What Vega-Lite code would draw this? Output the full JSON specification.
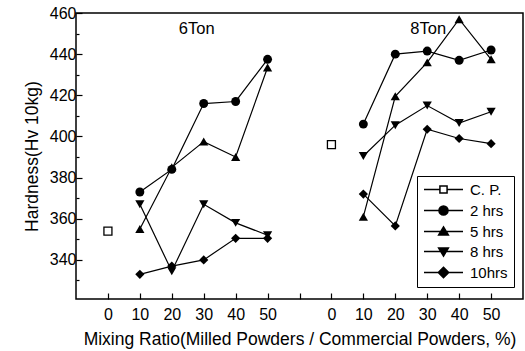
{
  "$schema": "https://vega.github.io/schema/vega-lite/v6.json",
  "width": 447,
  "height": 286,
  "autosize": "none",
  "padding": {"left": 76, "top": 13, "right": 2, "bottom": 52},
  "background": "white",
  "config": {
    "font": "Liberation Sans",
    "view": {"stroke": "black", "strokeWidth": 1.5},
    "axis": {"domain": false, "grid": false, "tickColor": "black", "tickWidth": 1.2, "labelColor": "black", "titleColor": "black", "labelFont": "Liberation Sans", "titleFont": "Liberation Sans", "labelFontSize": 16, "titleFontSize": 17.5, "titleFontWeight": "normal"}
  },
  "datasets": {
    "pts": [
      {"g": "6Ton", "x": "6Ton-0", "r": 0, "s": "C. P.", "v": 354},
      {"g": "6Ton", "x": "6Ton-10", "r": 10, "s": "2 hrs", "v": 373},
      {"g": "6Ton", "x": "6Ton-20", "r": 20, "s": "2 hrs", "v": 384},
      {"g": "6Ton", "x": "6Ton-30", "r": 30, "s": "2 hrs", "v": 416},
      {"g": "6Ton", "x": "6Ton-40", "r": 40, "s": "2 hrs", "v": 417},
      {"g": "6Ton", "x": "6Ton-50", "r": 50, "s": "2 hrs", "v": 437.5},
      {"g": "6Ton", "x": "6Ton-10", "r": 10, "s": "5 hrs", "v": 355},
      {"g": "6Ton", "x": "6Ton-20", "r": 20, "s": "5 hrs", "v": 385},
      {"g": "6Ton", "x": "6Ton-30", "r": 30, "s": "5 hrs", "v": 397.5},
      {"g": "6Ton", "x": "6Ton-40", "r": 40, "s": "5 hrs", "v": 390},
      {"g": "6Ton", "x": "6Ton-50", "r": 50, "s": "5 hrs", "v": 433.5},
      {"g": "6Ton", "x": "6Ton-10", "r": 10, "s": "8 hrs", "v": 367},
      {"g": "6Ton", "x": "6Ton-20", "r": 20, "s": "8 hrs", "v": 334.5},
      {"g": "6Ton", "x": "6Ton-30", "r": 30, "s": "8 hrs", "v": 367},
      {"g": "6Ton", "x": "6Ton-40", "r": 40, "s": "8 hrs", "v": 358},
      {"g": "6Ton", "x": "6Ton-50", "r": 50, "s": "8 hrs", "v": 352},
      {"g": "6Ton", "x": "6Ton-10", "r": 10, "s": "10hrs", "v": 333},
      {"g": "6Ton", "x": "6Ton-20", "r": 20, "s": "10hrs", "v": 337},
      {"g": "6Ton", "x": "6Ton-30", "r": 30, "s": "10hrs", "v": 340},
      {"g": "6Ton", "x": "6Ton-40", "r": 40, "s": "10hrs", "v": 350.5},
      {"g": "6Ton", "x": "6Ton-50", "r": 50, "s": "10hrs", "v": 350.5},
      {"g": "8Ton", "x": "8Ton-0", "r": 0, "s": "C. P.", "v": 396},
      {"g": "8Ton", "x": "8Ton-10", "r": 10, "s": "2 hrs", "v": 406},
      {"g": "8Ton", "x": "8Ton-20", "r": 20, "s": "2 hrs", "v": 440},
      {"g": "8Ton", "x": "8Ton-30", "r": 30, "s": "2 hrs", "v": 441.5},
      {"g": "8Ton", "x": "8Ton-40", "r": 40, "s": "2 hrs", "v": 437},
      {"g": "8Ton", "x": "8Ton-50", "r": 50, "s": "2 hrs", "v": 442},
      {"g": "8Ton", "x": "8Ton-10", "r": 10, "s": "5 hrs", "v": 361},
      {"g": "8Ton", "x": "8Ton-20", "r": 20, "s": "5 hrs", "v": 419.5},
      {"g": "8Ton", "x": "8Ton-30", "r": 30, "s": "5 hrs", "v": 436},
      {"g": "8Ton", "x": "8Ton-40", "r": 40, "s": "5 hrs", "v": 457},
      {"g": "8Ton", "x": "8Ton-50", "r": 50, "s": "5 hrs", "v": 437.5},
      {"g": "8Ton", "x": "8Ton-10", "r": 10, "s": "8 hrs", "v": 390.5},
      {"g": "8Ton", "x": "8Ton-20", "r": 20, "s": "8 hrs", "v": 405.5},
      {"g": "8Ton", "x": "8Ton-30", "r": 30, "s": "8 hrs", "v": 415},
      {"g": "8Ton", "x": "8Ton-40", "r": 40, "s": "8 hrs", "v": 406.5},
      {"g": "8Ton", "x": "8Ton-50", "r": 50, "s": "8 hrs", "v": 412},
      {"g": "8Ton", "x": "8Ton-10", "r": 10, "s": "10hrs", "v": 372},
      {"g": "8Ton", "x": "8Ton-20", "r": 20, "s": "10hrs", "v": 356.5},
      {"g": "8Ton", "x": "8Ton-30", "r": 30, "s": "10hrs", "v": 403.5},
      {"g": "8Ton", "x": "8Ton-40", "r": 40, "s": "10hrs", "v": 399},
      {"g": "8Ton", "x": "8Ton-50", "r": 50, "s": "10hrs", "v": 396.5}
    ],
    "labels": [
      {"t": "6Ton", "x": "6Ton-30", "v": 452.2},
      {"t": "8Ton", "x": "8Ton-30", "v": 452.2}
    ]
  },
  "resolve": {"axis": {"y": "independent"}},
  "layer": [
    {
      "data": {"name": "pts"},
      "mark": {"type": "line", "color": "black", "strokeWidth": 1.2},
      "encoding": {
        "x": {"field": "x", "type": "ordinal",
          "scale": {"type": "point", "padding": 1, "domain": ["6Ton-0", "6Ton-10", "6Ton-20", "6Ton-30", "6Ton-40", "6Ton-50", "gap", "8Ton-0", "8Ton-10", "8Ton-20", "8Ton-30", "8Ton-40", "8Ton-50"]},
          "axis": {"title": "Mixing Ratio(Milled Powders / Commercial Powders, %)", "labelAngle": 0, "tickSize": -6, "labelPadding": 13, "titlePadding": 8, "labelExpr": "datum.value == 'gap' ? '' : split(datum.value, '-')[1]"}},
        "y": {"field": "v", "type": "quantitative", "scale": {"domain": [321, 460], "nice": false, "zero": false},
          "axis": {"values": [340, 360, 380, 400, 420, 440, 460], "tickSize": -6, "labelPadding": 6, "title": "Hardness(Hv 10kg)", "titlePadding": 8, "orient": "left"}},
        "detail": [{"field": "g"}, {"field": "s"}],
        "order": {"field": "r", "type": "quantitative"}
      }
    },
    {
      "data": {"name": "pts"},
      "transform": [{"filter": "datum.s == 'C. P.'"}],
      "mark": {"type": "point", "shape": "square", "filled": false, "fill": "white", "stroke": "black", "strokeWidth": 1.3, "size": 64, "opacity": 1},
      "encoding": {
        "x": {"field": "x", "type": "ordinal"},
        "y": {"field": "v", "type": "quantitative",
          "axis": {"values": [330, 350, 370, 390, 410, 430, 450], "tickSize": -3, "labels": false, "title": null, "orient": "left", "domain": false}}
      }
    },
    {
      "data": {"name": "pts"},
      "transform": [{"filter": "datum.s == '2 hrs'"}],
      "mark": {"type": "point", "shape": "circle", "filled": true, "color": "black", "size": 80, "opacity": 1},
      "encoding": {
        "x": {"field": "x", "type": "ordinal"},
        "y": {"field": "v", "type": "quantitative", "axis": null}
      }
    },
    {
      "data": {"name": "pts"},
      "transform": [{"filter": "datum.s == '5 hrs'"}],
      "mark": {"type": "point", "shape": "triangle-up", "filled": true, "color": "black", "size": 85, "opacity": 1},
      "encoding": {
        "x": {"field": "x", "type": "ordinal"},
        "y": {"field": "v", "type": "quantitative", "axis": null}
      }
    },
    {
      "data": {"name": "pts"},
      "transform": [{"filter": "datum.s == '8 hrs'"}],
      "mark": {"type": "point", "shape": "triangle-down", "filled": true, "color": "black", "size": 85, "opacity": 1},
      "encoding": {
        "x": {"field": "x", "type": "ordinal"},
        "y": {"field": "v", "type": "quantitative", "axis": null}
      }
    },
    {
      "data": {"name": "pts"},
      "transform": [{"filter": "datum.s == '10hrs'"}],
      "mark": {"type": "point", "shape": "diamond", "filled": true, "color": "black", "size": 85, "opacity": 1},
      "encoding": {
        "x": {"field": "x", "type": "ordinal"},
        "y": {"field": "v", "type": "quantitative", "axis": null}
      }
    },
    {
      "data": {"name": "pts"},
      "transform": [{"filter": "false"}],
      "mark": {"type": "point", "filled": false, "stroke": "black", "strokeWidth": 1, "opacity": 1},
      "encoding": {
        "x": {"field": "x", "type": "ordinal"},
        "y": {"field": "v", "type": "quantitative", "axis": null},
        "shape": {"field": "s", "type": "nominal",
          "scale": {"domain": ["C. P.", "2 hrs", "5 hrs", "8 hrs", "10hrs"],
            "range": ["M-1,0H1.45M2.55,0H5M1.45,-0.55H2.55V0.55H1.45Z", "M-1,0H5M1.3,0A0.7,0.7 0 1,0 2.7,0A0.7,0.7 0 1,0 1.3,0Z", "M-1,0H5M2,-0.7L2.75,0.55L1.25,0.55Z", "M-1,0H5M2,0.7L2.75,-0.55L1.25,-0.55Z", "M-1,0H5M2,-0.8L2.8,0L2,0.8L1.2,0Z"]},
          "legend": {"orient": "none", "legendX": 341, "legendY": 163, "title": null, "strokeColor": "black", "fillColor": "white", "padding": 6, "labelFontSize": 15, "labelFont": "Liberation Sans", "labelColor": "black", "symbolSize": 169, "labelOffset": 32, "rowPadding": 4,
            "encode": {
              "legend": {"strokeWidth": {"value": 1.5}},
              "symbols": {
                "stroke": {"value": "black"},
                "strokeWidth": {"value": 1},
                "opacity": {"value": 1}
              }
            }}},
        "fill": {"field": "s", "type": "nominal",
          "scale": {"domain": ["C. P.", "2 hrs", "5 hrs", "8 hrs", "10hrs"], "range": ["white", "black", "black", "black", "black"]},
          "legend": null}
      }
    },
    {
      "data": {"name": "labels"},
      "transform": [{"filter": "datum.t == '6Ton'"}],
      "mark": {"type": "text", "fontSize": 16.5, "font": "Liberation Sans", "color": "black", "dx": -7},
      "encoding": {
        "x": {"field": "x", "type": "ordinal"},
        "y": {"field": "v", "type": "quantitative", "axis": null},
        "text": {"field": "t"}
      }
    },
    {
      "data": {"name": "labels"},
      "transform": [{"filter": "datum.t == '8Ton'"}],
      "mark": {"type": "text", "fontSize": 16.5, "font": "Liberation Sans", "color": "black", "dx": 1},
      "encoding": {
        "x": {"field": "x", "type": "ordinal"},
        "y": {"field": "v", "type": "quantitative", "axis": null},
        "text": {"field": "t"}
      }
    }
  ]
}
